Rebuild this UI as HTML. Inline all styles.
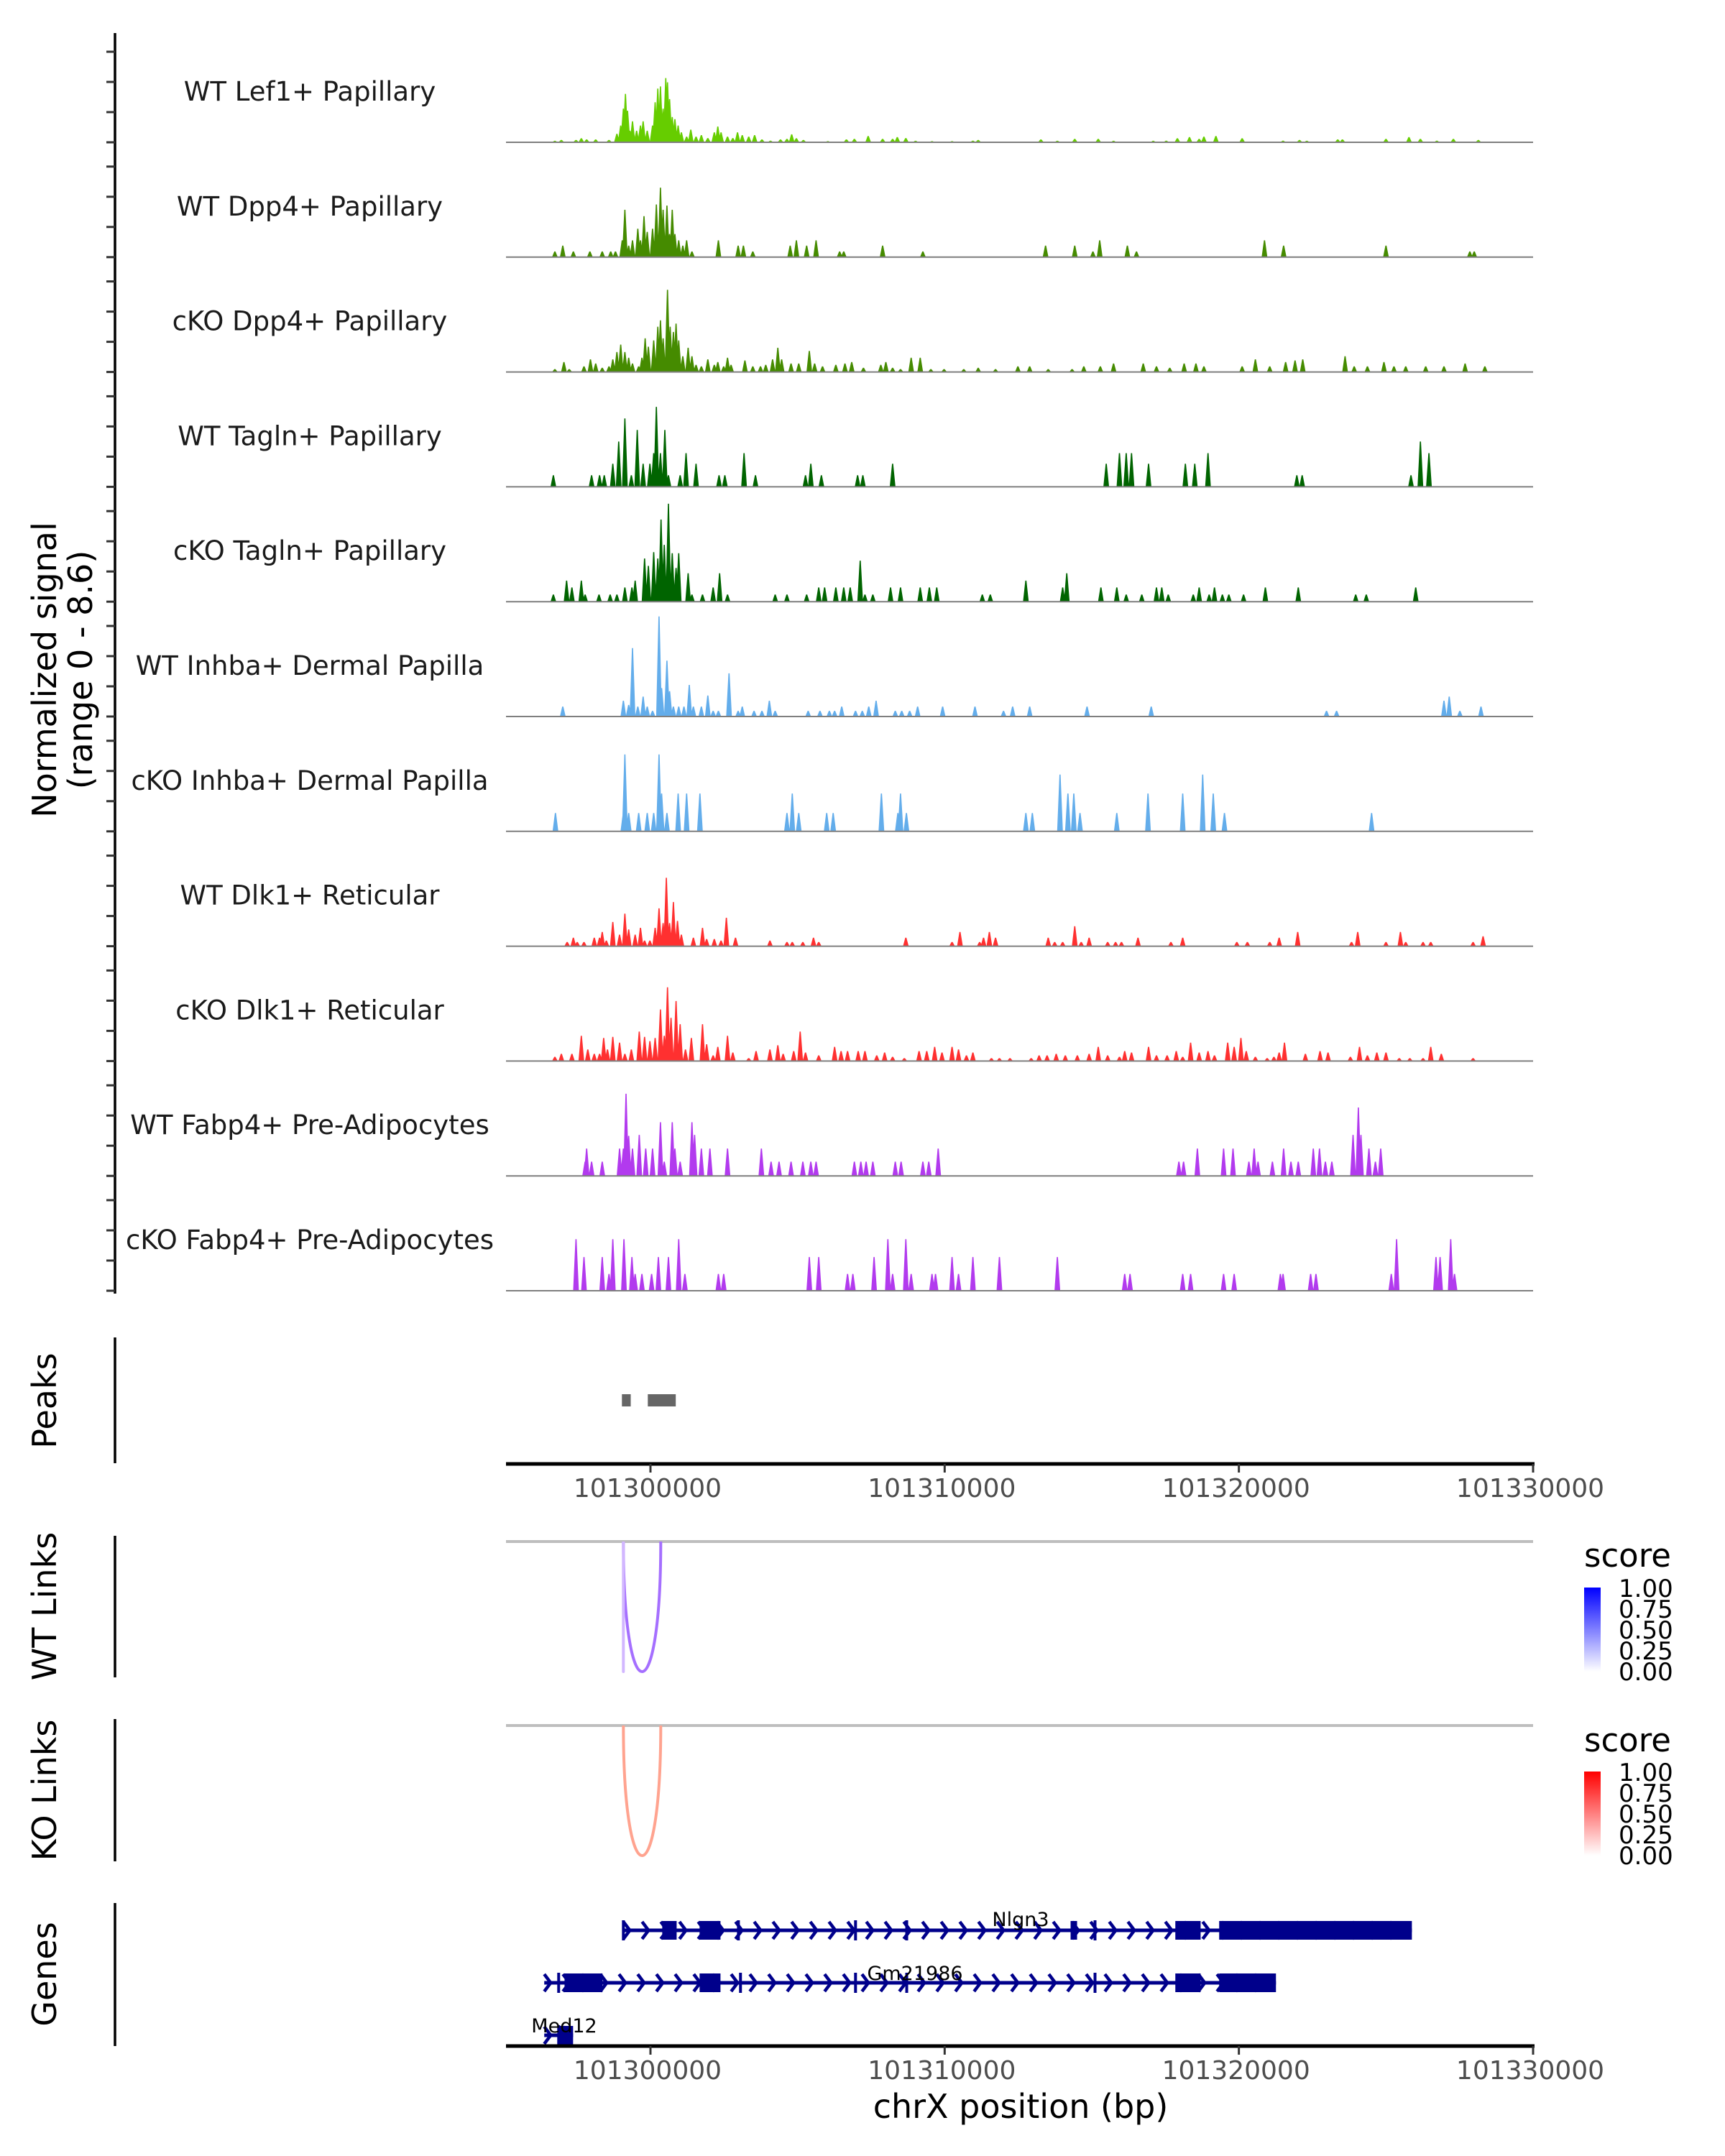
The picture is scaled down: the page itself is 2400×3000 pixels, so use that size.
<!DOCTYPE html>
<html><head><meta charset="utf-8"><title>Coverage plot chrX Nlgn3</title>
<style>
html,body{margin:0;padding:0;background:#fff;}
svg{display:block;font-family:"DejaVu Sans","Liberation Sans",sans-serif;}
</style></head>
<body>
<svg id="chart" width="2400" height="3000" viewBox="0 0 2400 3000" xmlns="http://www.w3.org/2000/svg">
<rect x="0" y="0" width="2400" height="3000" fill="#fff"/>
<g id="tracks"></g>
<g id="leftaxes"></g>
<text transform="translate(78,932) rotate(-90)" text-anchor="middle" font-size="46" fill="#000">Normalized signal</text>
<text transform="translate(128,932) rotate(-90)" text-anchor="middle" font-size="46" fill="#000">(range 0 - 8.6)</text>
<text transform="translate(78,1949) rotate(-90)" text-anchor="middle" font-size="46" fill="#000">Peaks</text>
<text transform="translate(78,2235) rotate(-90)" text-anchor="middle" font-size="46" fill="#000">WT Links</text>
<text transform="translate(78,2491) rotate(-90)" text-anchor="middle" font-size="46" fill="#000">KO Links</text>
<text transform="translate(78,2747) rotate(-90)" text-anchor="middle" font-size="46" fill="#000">Genes</text>
<g id="peaks"></g>
<g id="links"></g>
<g id="genes"></g>
<g id="xaxes"></g>
<text x="1420" y="2947" text-anchor="middle" font-size="46" fill="#000">chrX position (bp)</text>
<g>
<defs>
<linearGradient id="gBlue" x1="0" y1="1" x2="0" y2="0"><stop offset="0" stop-color="#ffffff"/><stop offset="1" stop-color="#0000ff"/></linearGradient>
<linearGradient id="gRed" x1="0" y1="1" x2="0" y2="0"><stop offset="0" stop-color="#ffffff"/><stop offset="1" stop-color="#ff0000"/></linearGradient>
</defs>
<text x="2204" y="2180" font-size="45" fill="#000">score</text>
<rect x="2204" y="2209" width="23" height="117" fill="url(#gBlue)"/>
<g font-size="34" fill="#000">
<text x="2252" y="2222">1.00</text><text x="2252" y="2251">0.75</text><text x="2252" y="2280">0.50</text><text x="2252" y="2309">0.25</text><text x="2252" y="2338">0.00</text></g>
</g>
<g>
<text x="2204" y="2437" font-size="45" fill="#000">score</text>
<rect x="2204" y="2465" width="23" height="117" fill="url(#gRed)"/>
<g font-size="34" fill="#000">
<text x="2252" y="2478">1.00</text><text x="2252" y="2507">0.75</text><text x="2252" y="2536">0.50</text><text x="2252" y="2565">0.25</text><text x="2252" y="2594">0.00</text></g>
</g>
<text x="1420" y="2680" text-anchor="middle" font-size="27" fill="#000">Nlgn3</text>
<text x="1273" y="2755" text-anchor="middle" font-size="27" fill="#000">Gm21986</text>
<text x="785" y="2828" text-anchor="middle" font-size="27" fill="#000">Med12</text>
</svg>
<script>
// ---- data (positions in kb offset from chrX:101,295,000; values in normalized signal) ----
const trackNames = ["WT Lef1+ Papillary","WT Dpp4+ Papillary","cKO Dpp4+ Papillary","WT Tagln+ Papillary","cKO Tagln+ Papillary","WT Inhba+ Dermal Papilla","cKO Inhba+ Dermal Papilla","WT Dlk1+ Reticular","cKO Dlk1+ Reticular","WT Fabp4+ Pre-Adipocytes","cKO Fabp4+ Pre-Adipocytes"];
const xDomain = [101295090, 101330000];
const xTicks = [101300000, 101310000, 101320000, 101330000];
const yRange = [0, 8.6];
const wtLef1 = [[1.75,.14],[1.97,.22],[2.47,.22],[2.65,.38],[2.83,.27],[3.14,.27],[3.59,.22],[3.86,.81],[3.99,1.6],[4.08,3.2],[4.15,4.6],[4.22,3.0],[4.3,1.1],[4.39,2.0],[4.53,1.1],[4.66,1.6],[4.75,2.0],[4.89,1.1],[5.07,1.6],[5.16,3.8],[5.25,5.1],[5.34,5.3],[5.43,3.2],[5.52,6.1],[5.58,5.7],[5.65,4.1],[5.74,2.4],[5.83,2.2],[5.94,1.6],[6.05,.95],[6.23,.54],[6.37,1.2],[6.55,.54],[6.73,.68],[6.95,.4],[7.17,.95],[7.29,1.5],[7.4,.95],[7.62,.54],[7.8,.4],[7.96,.95],[8.12,.68],[8.34,.54],[8.54,.68],[8.79,.27],[9.08,.16],[9.42,.27],[9.64,.32],[9.8,.76],[9.96,.38],[10.2,.22],[11.03,.11],[11.66,.27],[11.93,.32],[12.4,.6],[12.89,.32],[13.23,.32],[13.39,.49],[13.68,.4],[14.01,.14],[14.57,.11],[15.25,.11],[15.96,.16],[16.14,.22],[18.27,.27],[18.83,.14],[19.42,.32],[20.22,.32],[20.74,.14],[22.09,.14],[22.53,.16],[22.91,.38],[23.32,.49],[23.65,.32],[23.81,.54],[24.22,.6],[25.11,.38],[26.5,.16],[27.06,.22],[27.31,.14],[28.36,.27],[28.52,.27],[30.0,.32],[30.78,.49],[31.17,.32],[31.73,.16],[32.29,.32],[33.14,.22]];
const wtDpp4 = [[1.75,.54],[2.02,1.1],[2.38,.54],[2.94,.54],[3.36,.54],[3.65,.54],[3.81,.54],[4.04,1.6],[4.13,4.5],[4.26,1.1],[4.39,1.6],[4.57,2.7],[4.66,1.6],[4.78,3.9],[4.89,2.4],[5.07,2.7],[5.2,5.0],[5.34,6.6],[5.43,4.5],[5.56,4.9],[5.65,2.2],[5.74,4.5],[5.83,2.2],[5.96,1.6],[6.1,1.1],[6.23,1.6],[6.41,.54],[7.31,1.6],[7.98,1.1],[8.16,1.1],[8.48,.54],[9.75,1.1],[9.96,1.6],[10.31,1.1],[10.63,1.6],[11.43,.54],[11.57,.54],[12.89,1.1],[14.26,.54],[18.43,1.1],[19.42,1.1],[20.04,.54],[20.27,1.6],[21.21,1.1],[21.52,.54],[25.87,1.6],[26.52,1.1],[30.0,1.1],[32.85,.54],[33.0,.54]];
const ckoDpp4 = [[1.75,.27],[2.06,.95],[2.24,.27],[2.74,.54],[2.96,1.2],[3.14,.81],[3.36,.4],[3.59,.54],[3.72,1.2],[3.86,1.9],[3.99,2.6],[4.13,1.9],[4.26,1.35],[4.39,.81],[4.6,.54],[4.71,1.35],[4.82,3.2],[4.93,2.4],[5.11,3.0],[5.25,4.3],[5.34,4.9],[5.43,3.2],[5.58,7.8],[5.67,4.3],[5.78,3.8],[5.87,4.6],[5.96,3.0],[6.1,1.5],[6.28,2.3],[6.41,1.5],[6.55,.68],[6.73,.54],[6.95,1.2],[7.17,.68],[7.29,.95],[7.49,.54],[7.62,1.35],[7.74,.68],[8.21,1.1],[8.48,.54],[8.74,.54],[8.92,.68],[9.15,1.2],[9.33,2.3],[9.46,1.2],[9.78,.81],[10.04,.81],[10.4,2.0],[10.58,.81],[10.85,.54],[11.3,.68],[11.61,.81],[11.84,.95],[12.24,.4],[12.83,.68],[13.0,.95],[13.23,.4],[13.5,.27],[13.86,1.35],[14.17,1.35],[14.53,.27],[14.98,.27],[15.65,.27],[16.14,.4],[16.73,.27],[17.49,.54],[17.89,.54],[18.52,.27],[19.33,.27],[19.73,.54],[20.29,.54],[20.74,.81],[21.75,.81],[22.2,.54],[22.65,.4],[23.14,.81],[23.54,.81],[23.81,.54],[25.11,.54],[25.56,1.2],[26.05,.54],[26.59,.95],[26.91,1.1],[27.17,1.2],[28.61,1.5],[28.92,.54],[29.37,.54],[29.93,.95],[30.27,.54],[30.67,.54],[31.35,.54],[31.97,.54],[32.69,.81],[33.36,.54]];
const wtTagln = [[1.7,1.1],[3.0,1.1],[3.27,1.1],[3.43,1.1],[3.72,2.2],[3.92,4.3],[4.13,6.5],[4.35,1.1],[4.55,5.4],[4.75,2.2],[4.98,2.2],[5.11,3.2],[5.2,7.6],[5.34,3.2],[5.49,5.4],[5.61,1.1],[6.01,1.1],[6.21,3.2],[6.55,2.2],[7.33,1.1],[7.53,1.1],[8.18,3.2],[8.57,1.1],[10.27,1.1],[10.45,2.2],[10.81,1.1],[12.04,1.1],[12.22,1.1],[13.23,2.2],[20.49,2.2],[20.94,3.2],[21.17,3.2],[21.35,3.2],[21.93,2.2],[23.18,2.2],[23.5,2.2],[23.95,3.2],[26.97,1.1],[27.15,1.1],[30.85,1.1],[31.17,4.3],[31.46,3.2]];
const ckoTagln = [[1.7,.68],[2.15,2.0],[2.33,1.35],[2.65,2.0],[2.78,.68],[3.25,.68],[3.63,.68],[3.86,.68],[4.13,1.35],[4.37,1.35],[4.48,2.0],[4.8,4.1],[4.93,3.4],[5.11,4.7],[5.25,4.1],[5.36,7.8],[5.47,5.4],[5.61,9.3],[5.74,4.6],[5.87,3.2],[5.96,4.6],[6.28,2.7],[6.41,.68],[6.77,.68],[7.13,1.35],[7.35,2.7],[7.62,.68],[9.24,.68],[9.64,.68],[10.31,.68],[10.72,1.35],[10.92,1.35],[11.3,1.35],[11.57,1.35],[11.79,1.35],[12.13,3.9],[12.29,.68],[12.56,.68],[13.16,1.35],[13.5,1.35],[14.17,1.35],[14.48,1.35],[14.73,1.35],[16.28,.68],[16.55,.68],[17.76,2.0],[19.01,1.35],[19.15,2.7],[20.31,1.35],[20.85,1.35],[21.17,.68],[21.7,.68],[22.2,1.35],[22.38,1.35],[22.6,.68],[23.45,.68],[23.65,1.35],[23.99,.68],[24.17,1.35],[24.44,.68],[24.66,.68],[25.16,.68],[25.9,1.35],[27.02,1.35],[28.97,.68],[29.33,.68],[31.01,1.35]];
const wtInhba = [[2.02,.95],[4.08,1.5],[4.26,1.1],[4.39,6.5],[4.57,.95],[4.75,1.9],[4.89,.95],[5.07,.54],[5.29,9.5],[5.38,2.7],[5.56,5.3],[5.65,2.4],[5.78,.95],[5.96,.95],[6.14,.95],[6.32,3.0],[6.46,.95],[6.73,.95],[6.95,2.0],[7.13,.54],[7.31,.54],[7.67,4.1],[7.98,.54],[8.12,.95],[8.52,.54],[8.79,.54],[9.04,1.5],[9.24,.54],[10.36,.54],[10.76,.54],[11.08,.54],[11.26,.54],[11.5,.95],[11.97,.54],[12.2,.54],[12.42,.95],[12.67,1.5],[13.32,.54],[13.54,.54],[13.81,.54],[14.08,.95],[14.93,.95],[16.03,.95],[17.0,.54],[17.31,.95],[17.89,.95],[19.84,.95],[22.02,.95],[27.98,.54],[28.32,.54],[31.97,1.5],[32.15,1.9],[32.51,.54],[33.23,.95]];
const ckoInhba = [[1.77,1.75],[4.08,1.75],[4.13,7.3],[4.26,1.75],[4.6,1.75],[4.89,1.75],[5.11,1.75],[5.29,7.3],[5.38,3.6],[5.56,1.75],[5.94,3.6],[6.23,3.6],[6.68,3.6],[9.64,1.75],[9.82,3.6],[10.04,1.75],[10.99,1.75],[11.21,1.75],[12.85,3.6],[13.41,1.75],[13.5,3.6],[13.7,1.75],[17.76,1.75],[17.98,1.75],[18.92,5.4],[19.19,3.6],[19.39,3.6],[19.6,1.75],[20.85,1.75],[21.91,3.6],[23.09,3.6],[23.77,5.4],[24.13,3.6],[24.51,1.75],[29.51,1.75]];
const wtDlk1 = [[2.17,.4],[2.38,.81],[2.51,.4],[2.74,.4],[3.09,.81],[3.27,.81],[3.36,1.35],[3.5,.54],[3.72,2.3],[3.95,1.1],[4.13,3.1],[4.26,1.6],[4.48,1.1],[4.66,1.75],[4.8,.54],[4.98,.54],[5.16,1.75],[5.29,3.6],[5.43,2.2],[5.54,6.5],[5.65,2.2],[5.78,4.2],[5.92,2.4],[6.05,1.1],[6.46,.81],[6.77,1.75],[6.91,.68],[7.17,.68],[7.4,.54],[7.58,2.7],[7.89,.81],[9.06,.54],[9.64,.4],[9.82,.4],[10.18,.4],[10.54,.81],[10.72,.4],[13.68,.81],[15.25,.4],[15.52,1.35],[16.19,.4],[16.32,.81],[16.52,1.35],[16.73,.81],[18.52,.81],[18.74,.4],[19.01,.4],[19.42,1.9],[19.64,.4],[19.91,.81],[20.54,.4],[20.81,.4],[21.01,.4],[21.57,.81],[22.69,.4],[23.09,.81],[24.93,.4],[25.29,.4],[26.05,.4],[26.37,.81],[27.0,1.35],[28.83,.4],[29.04,1.35],[30.0,.4],[30.49,1.35],[30.67,.4],[31.26,.4],[31.52,.4],[32.96,.4],[33.3,.95]];
const ckoDlk1 = [[1.75,.4],[1.97,.68],[2.33,.68],[2.65,2.4],[2.87,1.1],[3.09,.68],[3.27,.68],[3.41,2.2],[3.54,1.1],[3.72,2.3],[3.95,1.75],[4.13,.68],[4.35,1.1],[4.62,2.8],[4.8,2.3],[4.98,1.9],[5.16,2.2],[5.34,4.9],[5.47,2.4],[5.58,7.0],[5.7,4.1],[5.87,5.7],[6.01,3.5],[6.19,1.1],[6.39,2.2],[6.77,3.5],[6.91,1.6],[7.13,.54],[7.29,1.35],[7.62,2.4],[7.8,.81],[8.34,.27],[8.59,.95],[9.06,1.1],[9.33,1.5],[9.51,.68],[9.87,.95],[10.09,2.8],[10.27,.81],[10.72,.54],[11.26,1.35],[11.48,.95],[11.7,.95],[12.06,.95],[12.29,.95],[12.69,.54],[12.96,.81],[13.23,.4],[13.63,.27],[14.13,.95],[14.39,.95],[14.66,1.35],[14.91,.81],[15.25,1.35],[15.47,1.1],[15.74,.54],[15.96,.81],[16.59,.27],[16.86,.27],[17.22,.27],[17.94,.27],[18.21,.54],[18.48,.54],[18.79,.68],[19.1,.54],[19.51,.54],[19.91,.68],[20.22,1.35],[20.54,.54],[20.94,.4],[21.12,.95],[21.35,.81],[21.93,1.35],[22.2,.54],[22.56,.54],[22.87,.95],[23.09,.4],[23.36,1.75],[23.65,.81],[23.95,.95],[24.17,.54],[24.62,1.75],[24.84,1.35],[25.07,2.2],[25.25,.95],[25.56,.4],[25.96,.27],[26.19,.4],[26.37,.81],[26.55,1.75],[27.26,.68],[27.76,.95],[28.03,.81],[28.79,.4],[29.1,1.35],[29.37,.54],[29.69,.81],[30.0,.81],[30.45,.27],[30.81,.27],[31.26,.27],[31.52,1.35],[31.88,.68],[32.96,.27]];
const wtFabp4 = [[2.78,1.35],[2.83,2.6],[3.0,1.35],[3.36,1.35],[3.95,2.6],[4.08,2.6],[4.17,7.8],[4.26,3.8],[4.39,2.6],[4.62,3.9],[4.84,2.6],[5.07,2.6],[5.34,5.1],[5.47,1.35],[5.74,5.1],[5.83,2.6],[6.01,1.35],[6.41,5.1],[6.5,3.9],[6.73,2.6],[7.02,2.6],[7.62,2.6],[8.77,2.6],[9.1,1.35],[9.37,1.35],[9.78,1.35],[10.18,1.35],[10.45,1.35],[10.63,1.35],[11.93,1.35],[12.15,1.35],[12.33,1.35],[12.56,1.35],[13.32,1.35],[13.52,1.35],[14.26,1.35],[14.46,1.35],[14.78,2.6],[22.96,1.35],[23.12,1.35],[23.59,2.6],[24.48,2.6],[24.8,2.6],[25.34,1.35],[25.52,2.6],[25.65,1.35],[26.14,1.35],[26.52,2.6],[26.77,1.35],[27.02,1.35],[27.53,2.6],[27.74,2.6],[27.94,1.35],[28.16,1.35],[28.88,3.9],[29.06,6.5],[29.15,3.9],[29.42,2.6],[29.64,1.35],[29.82,2.6]];
const ckoFabp4 = [[2.47,4.9],[2.74,3.2],[3.36,3.2],[3.59,1.6],[3.72,4.9],[4.1,4.9],[4.37,3.2],[4.48,1.6],[4.71,1.6],[5.04,1.6],[5.27,3.2],[5.61,3.2],[5.96,4.9],[6.17,1.6],[7.31,1.6],[7.49,1.6],[10.4,3.2],[10.72,3.2],[11.7,1.6],[11.88,1.6],[12.6,3.2],[13.07,4.9],[13.23,1.6],[13.68,4.9],[13.86,1.6],[14.57,1.6],[14.69,1.6],[15.25,3.2],[15.47,1.6],[15.96,3.2],[16.86,3.2],[18.83,3.2],[21.12,1.6],[21.3,1.6],[23.09,1.6],[23.36,1.6],[24.48,1.6],[24.84,1.6],[26.41,1.6],[26.5,1.6],[27.44,1.6],[27.62,1.6],[30.18,1.6],[30.36,4.9],[31.7,3.2],[31.84,3.2],[32.2,4.9],[32.33,1.6]];
const trackData = [wtLef1, wtDpp4, ckoDpp4, wtTagln, ckoTagln, wtInhba, ckoInhba, wtDlk1, ckoDlk1, wtFabp4, ckoFabp4];
const peakRegions = [[4.03,4.33],[4.91,5.86]];
const wtLinks = [[4.08,5.35,0.6],[4.08,4.08,0.3]];
const koLinks = [[4.08,5.35,0.4]];
const genes = [["Nlgn3",4.08,30.88,0],["Gm21986",1.39,26.26,1],["Med12",1.39,2.37,2]];
const geneExons = [[[5.40,5.89],[6.67,7.38],[19.28,19.50],[22.84,23.70],[24.33,30.88]],[[2.08,3.37],[6.67,7.38],[22.84,23.70],[24.33,26.26]],[[1.88,2.37]]];
const geneMarks = [[4.08,7.99,11.97,13.71,20.11],[1.88,8.06,11.97,13.71,20.11],[1.88]];

// ---- style / layout ----
const colors = ["#66CD00","#458B00","#458B00","#006400","#006400","#63ADEB","#63ADEB","#FF3030","#FF3030","#B23AEE","#B23AEE"];
const X0 = 704, X1 = 2133, B0 = 198, BSTEP = 159.8, TRACK_PX = 126;
const NS = "http://www.w3.org/2000/svg";
function xs(kb){ const bp = 101295000 + kb*1000; return X0 + (bp - xDomain[0])/(xDomain[1]-xDomain[0])*(X1-X0); }
function xbp(bp){ return X0 + (bp - xDomain[0])/(xDomain[1]-xDomain[0])*(X1-X0); }
function ys(v, base){ return base - (v - yRange[0])/(yRange[1]-yRange[0])*TRACK_PX; }
function mk(tag, attrs, parent){ const e = document.createElementNS(NS, tag); for (const k in attrs) e.setAttribute(k, attrs[k]); parent.appendChild(e); return e; }

const tracksG = document.getElementById('tracks');
trackData.forEach((arr, i) => {
  const base = B0 + i*BSTEP;
  const g = mk('g', {}, tracksG);
  
  
  const t = mk('text', {x: 431, y: base - 58, 'text-anchor': 'middle', 'font-size': 37, fill: '#1a1a1a'}, g);
  t.textContent = trackNames[i];
  
  
  let d = '';
  arr.forEach(p => {
    const x = xs(p[0]), y = ys(p[1], base);
    d += `M${(x-4).toFixed(1)},${base}L${(x-0.8).toFixed(1)},${y.toFixed(1)}L${(x+0.8).toFixed(1)},${y.toFixed(1)}L${(x+4).toFixed(1)},${base}Z`;
  });
  const path = mk('path', {d: d, fill: colors[i]}, g);
  
  
  const bl = mk('line', {x1: X0, x2: X1, y1: base, y2: base, stroke: '#7f7f7f', 'stroke-width': 2}, g);
  
  
});

const la = document.getElementById('leftaxes');
const segs = [[46,1800],[1861,2036],[2137,2334],[2392,2590],[2648,2847]];
segs.forEach(s => {
  const l = mk('line', {x1: 160, x2: 160, y1: s[0], y2: s[1], stroke: '#000', 'stroke-width': 3.5}, la);
  
  
});
for (let i = 0; i < trackData.length; i++) {
  const base = B0 + i*BSTEP;
  for (let k = 0; k < 4; k++) {
    const y = base - k*TRACK_PX/3;
    const tk = mk('line', {x1: 148, x2: 160, y1: y, y2: y, stroke: '#333', 'stroke-width': 3}, la);
    
    
  }
}

const pg = document.getElementById('peaks');
peakRegions.forEach(p => {
  const r = mk('rect', {x: xs(p[0]), y: 1940, width: xs(p[1]) - xs(p[0]), height: 17, fill: '#666'}, pg);
  
  
});

const xa = document.getElementById('xaxes');
[2037, 2847].forEach(ay => {
  const l = mk('line', {x1: X0, x2: X1 + 2, y1: ay, y2: ay, stroke: '#000', 'stroke-width': 5}, xa);
  
  
  xTicks.forEach(tv => {
    const x = xbp(tv);
    const tk = mk('line', {x1: x, x2: x, y1: ay, y2: ay + 12, stroke: '#333', 'stroke-width': 3}, xa);
    
    
    const tl = mk('text', {x: x - 4, y: ay + 46, 'text-anchor': 'middle', 'font-size': 36, fill: '#4d4d4d'}, xa);
    tl.textContent = String(tv);
    
    
  });
});

const lg = document.getElementById('links');
function drawLinks(arr, top, bottom, hue){
  const gl = mk('line', {x1: X0, x2: X1, y1: top, y2: top, stroke: '#bebebe', 'stroke-width': 4}, lg);
  
  
  arr.forEach(l => {
    const x1 = xs(l[0]), x2 = xs(l[1]), s = l[2];
    const c = hue === 'blue' ? `rgb(${Math.round(255-150*s)},${Math.round(255-240*s)},255)` : `rgb(255,${Math.round(255*(1-s*0.9))},${Math.round(255*(1-s*1.1))})`;
    const dep = (bottom - top)/0.75;
    const p = mk('path', {d: `M${x1},${top} C${x1},${top+dep} ${x2},${top+dep} ${x2},${top}`, fill: 'none', stroke: c, 'stroke-width': 4}, lg);
    
    
  });
}
drawLinks(wtLinks, 2145, 2326, 'blue');
drawLinks(koLinks, 2401, 2582, 'red');

const gg = document.getElementById('genes');
const rowY = [2686, 2759, 2832];
const GC = '#00008B';
genes.forEach((gn, gi) => {
  const y = rowY[gn[3]];
  const g = mk('g', {}, gg);
  
  
  const xa1 = xs(gn[1]), xa2 = xs(gn[2]);
  mk('line', {x1: xa1, x2: xa2, y1: y, y2: y, stroke: GC, 'stroke-width': 5}, g);
  let chev = '';
  for (let x = xa1 + 4; x < xa2 - 4; x += 26) chev += `M${x-4},${y-12}L${x+5},${y}L${x-4},${y+12}`;
  mk('path', {d: chev, fill: 'none', stroke: GC, 'stroke-width': 4.5}, g);
  geneExons[gi].forEach(e => {
    mk('rect', {x: xs(e[0]), y: y - 13, width: Math.max(3, xs(e[1]) - xs(e[0])), height: 26, fill: GC}, g);
  });
  geneMarks[gi].forEach(m => {
    mk('line', {x1: xs(m), x2: xs(m), y1: y - 14, y2: y + 14, stroke: GC, 'stroke-width': 4}, g);
  });
});
</script>
</body></html>
